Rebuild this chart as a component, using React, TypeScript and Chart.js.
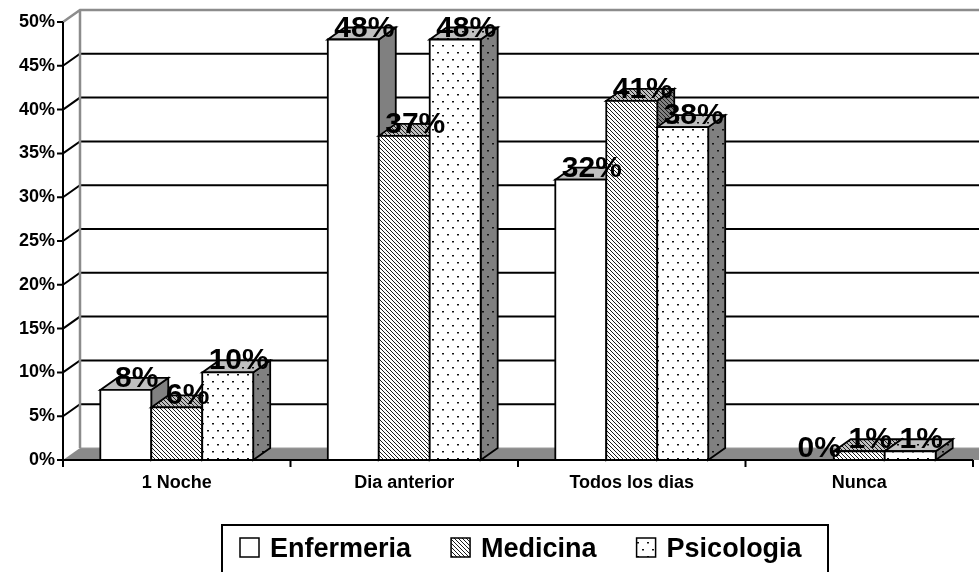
import { useEffect, useRef } from 'react';
import { Chart, registerables } from 'chart.js';

Chart.register(...registerables);

const categories = ['1 Noche', 'Dia anterior', 'Todos los dias', 'Nunca'];
const seriesNames = ['Enfermeria', 'Medicina', 'Psicologia'];
const enfermeria = [8, 48, 32, 0];
const medicina = [6, 37, 41, 1];
const psicologia = [10, 48, 38, 1];
const yMin = 0;
const yMax = 50;
const yStep = 5;

const FONT = '"Liberation Sans", Arial, sans-serif';
const DX = 17;
const DY = -12;

type Fills = { front: any; top: any; side: any };

function linesPattern(ctx: CanvasRenderingContext2D, bg: string) {
  const c = document.createElement('canvas');
  c.width = 4;
  c.height = 4;
  const g = c.getContext('2d')!;
  g.fillStyle = bg;
  g.fillRect(0, 0, 4, 4);
  for (let i = 0; i < 4; i++) {
    g.fillStyle = '#1a1a1a';
    g.fillRect(i, i, 1, 1);
  }
  return ctx.createPattern(c, 'repeat')!;
}

function dotsPattern(ctx: CanvasRenderingContext2D, bg: string) {
  const c = document.createElement('canvas');
  c.width = 10;
  c.height = 14;
  const g = c.getContext('2d')!;
  g.fillStyle = bg;
  g.fillRect(0, 0, 10, 14);
  g.fillStyle = '#111';
  g.fillRect(2, 3, 2, 1);
  g.fillRect(7, 10, 2, 1);
  g.fillStyle = 'rgba(0,0,0,0.45)';
  g.fillRect(2, 4, 2, 1);
  g.fillRect(7, 11, 2, 1);
  return ctx.createPattern(c, 'repeat')!;
}

function getFills(ctx: CanvasRenderingContext2D): Fills[] {
  return [
    { front: '#ffffff', top: '#c0c0c0', side: '#808080' },
    { front: linesPattern(ctx, '#ffffff'), top: linesPattern(ctx, '#c0c0c0'), side: linesPattern(ctx, '#808080') },
    { front: dotsPattern(ctx, '#ffffff'), top: dotsPattern(ctx, '#c0c0c0'), side: dotsPattern(ctx, '#808080') },
  ];
}

function poly(ctx: CanvasRenderingContext2D, pts: number[][], fill: any, stroke: string | null, lw = 2) {
  ctx.beginPath();
  ctx.moveTo(pts[0][0], pts[0][1]);
  for (let i = 1; i < pts.length; i++) ctx.lineTo(pts[i][0], pts[i][1]);
  ctx.closePath();
  if (fill) {
    ctx.fillStyle = fill;
    ctx.fill();
  }
  if (stroke) {
    ctx.strokeStyle = stroke;
    ctx.lineWidth = lw;
    ctx.lineJoin = 'miter';
    ctx.stroke();
  }
}

const threeD = {
  id: 'threeD',
  beforeDraw(chart: any) {
    const { ctx, width, height } = chart;
    ctx.save();
    ctx.fillStyle = '#ffffff';
    ctx.fillRect(0, 0, width, height);
    ctx.restore();
  },
  beforeDatasetsDraw(chart: any) {
    const { ctx, chartArea: a, scales } = chart;
    const y = scales.y;
    const x = scales.x;
    ctx.save();
    ctx.strokeStyle = '#000';
    ctx.lineWidth = 2;
    for (const t of y.ticks) {
      const v = t.value;
      if (v === yMin || v === yMax) continue;
      const py = y.getPixelForValue(v);
      ctx.beginPath();
      ctx.moveTo(a.left, py);
      ctx.lineTo(a.left + DX, py + DY);
      ctx.lineTo(a.right + DX + 40, py + DY);
      ctx.stroke();
    }
    poly(
      ctx,
      [
        [a.left, a.bottom],
        [a.left + DX, a.bottom + DY],
        [a.right + DX + 40, a.bottom + DY],
        [a.right + 40, a.bottom],
      ],
      '#8a8a8a',
      null
    );
    ctx.strokeStyle = '#9a9a9a';
    ctx.lineWidth = 1;
    ctx.beginPath();
    ctx.moveTo(a.left + DX, a.bottom + DY);
    ctx.lineTo(a.right + DX + 40, a.bottom + DY);
    ctx.stroke();
    ctx.strokeStyle = '#8c8c8c';
    ctx.lineWidth = 2.5;
    ctx.beginPath();
    ctx.moveTo(a.left, a.top);
    ctx.lineTo(a.left + DX, a.top + DY);
    ctx.lineTo(a.right + DX + 40, a.top + DY);
    ctx.moveTo(a.left + DX, a.top + DY);
    ctx.lineTo(a.left + DX, a.bottom + DY);
    ctx.stroke();
    ctx.strokeStyle = '#000';
    ctx.lineWidth = 2;
    ctx.beginPath();
    ctx.moveTo(a.left, a.top);
    ctx.lineTo(a.left, a.bottom + 7);
    for (const t of y.ticks) {
      const py = y.getPixelForValue(t.value);
      ctx.moveTo(a.left - 6, py);
      ctx.lineTo(a.left, py);
    }
    ctx.stroke();
    ctx.beginPath();
    ctx.moveTo(a.left, a.bottom);
    ctx.lineTo(a.right, a.bottom);
    const cw = (x.right - x.left) / categories.length;
    for (let k = 0; k <= categories.length; k++) {
      const px = x.left + k * cw;
      ctx.moveTo(px, a.bottom);
      ctx.lineTo(px, a.bottom + 7);
    }
    ctx.stroke();
    ctx.restore();
  },
  afterDatasetsDraw(chart: any) {
    const { ctx } = chart;
    const fills = getFills(ctx);
    const n = chart.data.datasets.length;
    ctx.save();
    for (let i = 0; i < categories.length; i++) {
      for (let d = 0; d < n; d++) {
        const el = chart.getDatasetMeta(d).data[i] as any;
        const v = chart.data.datasets[d].data[i] as number;
        if (!v) continue;
        const w = el.width;
        const l = el.x - w / 2;
        const r = el.x + w / 2;
        const t = el.y;
        const b = el.base;
        const f = fills[d];
        poly(ctx, [[r, t], [r + DX, t + DY], [r + DX, b + DY], [r, b]], f.side, '#000', 1.8);
        poly(ctx, [[l, t], [l + DX, t + DY], [r + DX, t + DY], [r, t]], f.top, '#000', 1.8);
        poly(ctx, [[l, t], [r, t], [r, b], [l, b]], f.front, '#000', 1.8);
      }
    }
    ctx.fillStyle = '#000';
    ctx.font = `bold 30px ${FONT}`;
    ctx.textAlign = 'center';
    ctx.textBaseline = 'alphabetic';
    for (let d = 0; d < n; d++) {
      const meta = chart.getDatasetMeta(d);
      meta.data.forEach((el: any, i: number) => {
        const v = chart.data.datasets[d].data[i];
        ctx.fillText(`${v}%`, el.x + 11, el.y - 3);
      });
    }
    ctx.restore();
  },
  afterDraw(chart: any) {
    const { ctx } = chart;
    const fills = getFills(ctx);
    ctx.save();
    ctx.strokeStyle = '#000';
    ctx.lineWidth = 2;
    ctx.strokeRect(222, 525, 606, 60);
    ctx.font = `bold 27px ${FONT}`;
    ctx.textAlign = 'left';
    ctx.textBaseline = 'alphabetic';
    let px = 240;
    seriesNames.forEach((name, k) => {
      ctx.fillStyle = fills[k].front;
      ctx.fillRect(px, 538, 19, 19);
      ctx.lineWidth = 1.5;
      ctx.strokeRect(px, 538, 19, 19);
      px += 19 + 11;
      ctx.fillStyle = '#000';
      ctx.fillText(name, px, 557);
      px += ctx.measureText(name).width + 40;
    });
    ctx.restore();
  },
};

export default function App() {
  const ref = useRef<HTMLCanvasElement>(null);
  useEffect(() => {
    if (!ref.current) return;
    const chart = new Chart(ref.current, {
      type: 'bar',
      data: {
        labels: categories,
        datasets: [
          { label: seriesNames[0], data: enfermeria, backgroundColor: 'rgba(0,0,0,0)', borderWidth: 0 },
          { label: seriesNames[1], data: medicina, backgroundColor: 'rgba(0,0,0,0)', borderWidth: 0 },
          { label: seriesNames[2], data: psicologia, backgroundColor: 'rgba(0,0,0,0)', borderWidth: 0 },
        ],
      },
      options: {
        responsive: false,
        animation: false,
        devicePixelRatio: 1,
        layout: { padding: { top: 22, right: 6, left: 0, bottom: 0 } },
        datasets: { bar: { categoryPercentage: 0.672, barPercentage: 1 } },
        scales: {
          x: {
            grid: { display: false, drawTicks: false },
            border: { display: false },
            ticks: { color: '#000', font: { family: FONT, weight: 'bold', size: 18 }, padding: 12, maxRotation: 0 },
            afterFit: (s: any) => {
              s.height = 112;
            },
          },
          y: {
            min: yMin,
            max: yMax,
            grid: { display: false, drawTicks: false },
            border: { display: false },
            ticks: {
              stepSize: yStep,
              color: '#000',
              font: { family: FONT, weight: 'bold', size: 18 },
              padding: 8,
              callback: (v: any) => `${v}%`,
            },
            afterFit: (s: any) => {
              s.width = 63;
            },
          },
        },
        plugins: { legend: { display: false }, tooltip: { enabled: false } },
      },
      plugins: [threeD],
    } as any);
    return () => chart.destroy();
  }, []);
  return (
    <div style={{ position: 'fixed', left: 0, top: 0, width: 979, height: 572 }}>
      <canvas ref={ref} width={979} height={572} />
    </div>
  );
}
